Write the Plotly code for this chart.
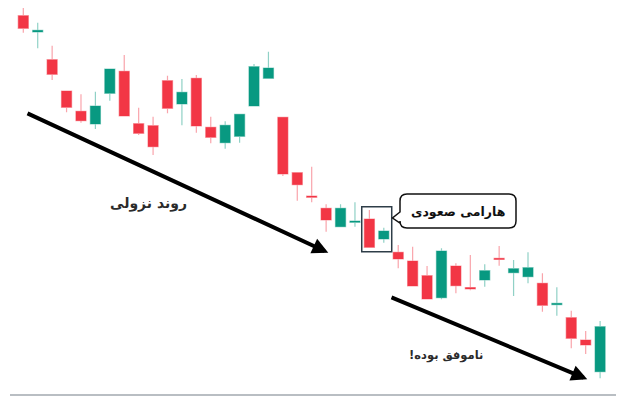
import plotly.graph_objects as go

# candle prices (higher = up)
opens = [384.3, 368.0, 340.3, 309.0, 288.7, 276.0, 306.7, 328.7, 276.3, 274.3,
         319.3, 296.0, 321.7, 272.7, 257.3, 263.7, 294.0, 321.7, 282.7, 227.3,
         204.0, 191.7, 173.3, 177.7, 181.0, 161.0, 147.7, 139.0, 124.3, 102.3,
         134.0, 112.5, 120.0, 141.7, 127.3, 123.3, 116.7, 95.3, 82.3, 60.0, 28.3]
highs = [393.3, 377.3, 354.3, 309.0, 305.7, 308.3, 331.0, 345.0, 292.3, 283.3,
         324.3, 321.0, 325.0, 283.3, 278.7, 286.0, 336.0, 348.3, 282.7, 227.3,
         233.3, 195.7, 195.7, 197.7, 190.0, 172.3, 155.0, 153.3, 134.0, 151.7,
         136.7, 145.0, 135.7, 154.0, 140.0, 147.7, 126.7, 112.7, 89.3, 69.0, 79.0]
lows = [367.3, 351.7, 320.0, 287.7, 277.3, 271.0, 299.3, 284.0, 265.0, 245.0,
        286.7, 274.7, 267.3, 256.7, 251.3, 257.3, 294.0, 321.7, 224.0, 199.3,
        197.7, 168.3, 173.3, 173.3, 152.7, 157.3, 131.7, 114.0, 101.0, 100.7,
        106.7, 109.7, 113.3, 134.3, 104.0, 116.7, 88.3, 84.3, 51.7, 46.0, 21.7]
closes = [371.7, 369.7, 325.7, 292.7, 279.3, 294.0, 331.0, 284.0, 266.7, 253.3,
          291.7, 307.7, 274.0, 262.7, 274.7, 285.7, 333.3, 332.0, 226.0, 215.3,
          202.7, 180.0, 191.7, 179.0, 152.7, 169.0, 141.0, 114.0, 101.0, 149.0,
          114.3, 111.0, 129.3, 140.5, 131.3, 132.3, 94.7, 96.7, 61.7, 55.0, 73.3]
idx = list(range(len(opens)))

trend_label = "روند نزولی"
harami_label = "هارامی صعودی"
failed_label = "ناموفق بوده!"
harami_at = [24, 25]

RED = "#f23645"
GREEN = "#089981"
RLM = "\u200f"  # keeps the "!" on the rtl side
FONT = "DejaVu Sans"

# page has an 8px body margin, so the figure is 608x388 sitting at (8, 8)
PAGE_PAD = 8


# helpers: picture pixel (page coords) -> data coords
def dx(p):
    return (p - 23.3) / 14.42


def dy(p):
    return 400 - p


fig = go.Figure()
fig.add_trace(go.Candlestick(
    x=idx, open=opens, high=highs, low=lows, close=closes,
    increasing=dict(fillcolor=GREEN, line=dict(color="rgba(8,153,129,0.45)", width=1.2)),
    decreasing=dict(fillcolor=RED, line=dict(color="rgba(242,54,69,0.45)", width=1.2)),
    whiskerwidth=0,
    showlegend=False,
    hoverinfo="skip",
))

# box around the harami pair
i0, i1 = harami_at
fig.add_shape(type="rect", x0=i0 - 0.53, x1=i1 + 0.55,
              y0=lows[i0] - 4.5, y1=highs[i0] + 3.3,
              line=dict(color="#2e3d48", width=1.5))

# callout bubble with pointer (rounded rect)
bx0, bx1, by0, by1, r = 400, 516, 194, 228, 7
pts = [
    f"M{dx(bx0 + r)},{dy(by0)}",
    f"L{dx(bx1 - r)},{dy(by0)}",
    f"Q{dx(bx1)},{dy(by0)} {dx(bx1)},{dy(by0 + r)}",
    f"L{dx(bx1)},{dy(by1 - r)}",
    f"Q{dx(bx1)},{dy(by1)} {dx(bx1 - r)},{dy(by1)}",
    f"L{dx(bx0 + r)},{dy(by1)}",
    f"Q{dx(bx0)},{dy(by1)} {dx(bx0)},{dy(by1 - r)}",
    f"L{dx(bx0)},{dy(223)}",
    f"L{dx(392.5)},{dy(218)}",
    f"L{dx(bx0)},{dy(212)}",
    f"L{dx(bx0)},{dy(by0 + r)}",
    f"Q{dx(bx0)},{dy(by0)} {dx(bx0 + r)},{dy(by0)}",
    "Z",
]
fig.add_shape(type="path", path=" ".join(pts), fillcolor="white",
              line=dict(color="#111111", width=1.5))

# bottom rule
fig.add_shape(type="line", x0=dx(10), x1=dx(617), y0=dy(395), y1=dy(395),
              line=dict(color="#b9bec3", width=2))

# arrows
for (sx, sy, ex, ey) in [(26, 112.7, 328.3, 252.7), (390, 296.7, 587.3, 379.3)]:
    fig.add_annotation(x=dx(ex), y=dy(ey), ax=dx(sx), ay=dy(sy),
                       xref="x", yref="y", axref="x", ayref="y",
                       text="", showarrow=True, arrowhead=2, arrowsize=0.8,
                       arrowwidth=4, arrowcolor="black", standoff=0)

fig.add_annotation(x=dx(148), y=dy(203), text=f"<b>{trend_label}</b>", showarrow=False,
                   font=dict(family=FONT, size=14, color="#2b2b2b"))
fig.add_annotation(x=dx(458), y=dy(211), text=f"<b>{harami_label}</b>", showarrow=False,
                   font=dict(family=FONT, size=12.5, color="#111111"))
fig.add_annotation(x=dx(446), y=dy(355), text=f"<b>{failed_label}{RLM}</b>", showarrow=False,
                   font=dict(family=FONT, size=11.5, color="#2b2b2b"))

fig.update_layout(
    width=624 - 2 * PAGE_PAD, height=404 - 2 * PAGE_PAD,
    margin=dict(l=0, r=0, t=0, b=0),
    paper_bgcolor="white", plot_bgcolor="white",
    boxgap=0.3, boxgroupgap=0,
    xaxis=dict(range=[dx(PAGE_PAD), dx(624 - PAGE_PAD)], visible=False,
               rangeslider=dict(visible=False), fixedrange=True),
    yaxis=dict(range=[dy(404 - PAGE_PAD), dy(PAGE_PAD)], visible=False, fixedrange=True),
)

fig.write_html("out.html")
